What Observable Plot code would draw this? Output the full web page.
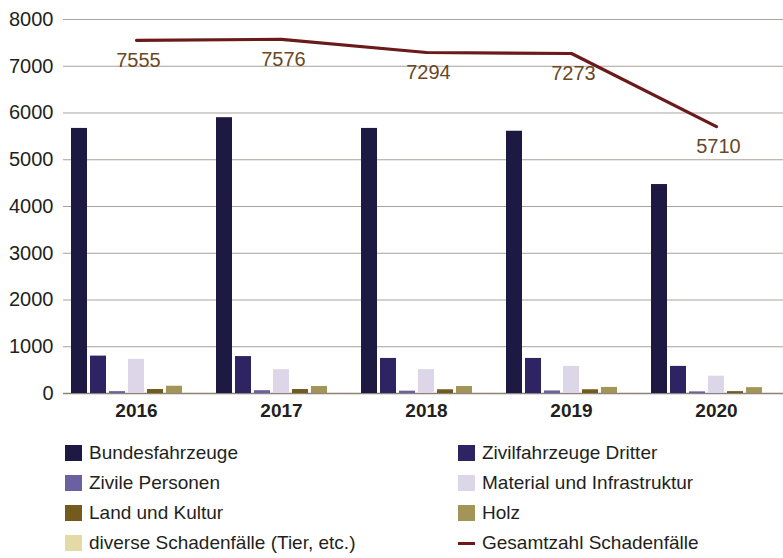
<!DOCTYPE html>
<html>
<head>
<meta charset="utf-8">
<script src="https://cdn.jsdelivr.net/npm/d3@7"></script>
<script src="https://cdn.jsdelivr.net/npm/@observablehq/plot@0.6"></script>
<style>
  html, body { margin: 0; padding: 0; background: #fff; overflow: hidden; }
  body { width: 783px; height: 558px; font-family: "Liberation Sans", Arial, sans-serif; }
  #chart { position: relative; width: 783px; height: 425px; }
  #chart svg { position: absolute; left: 0; top: 0; overflow: visible; background: transparent; }
  #chart svg.layerA { background: #fff; }
  [aria-label^="fx-axis"] text { font-weight: bold; }
  #legend { display: grid; grid-template-columns: 393px 300px; padding: 13px 0 0 65px; }
  .item { display: flex; align-items: center; height: 30px; font-size: 19px; color: #231f20; }
  .sw { width: 17px; height: 16px; margin-right: 7px; flex: none; }
  .ln { width: 17px; height: 3px; margin-right: 7px; flex: none; }
</style>
</head>
<body>
<div id="chart"></div>
<div id="legend"></div>
<script>
// ---- data ----
const years = ["2016", "2017", "2018", "2019", "2020"];
const series = [
  "Bundesfahrzeuge",
  "Zivilfahrzeuge Dritter",
  "Zivile Personen",
  "Material und Infrastruktur",
  "Land und Kultur",
  "Holz",
  "diverse Schadenfälle (Tier, etc.)"
];
const bundesfahrzeuge   = [5670, 5900, 5670, 5610, 4470];
const zivilfahrzeuge    = [800, 790, 750, 750, 580];
const zivilePersonen    = [40, 60, 50, 55, 35];
const material          = [730, 510, 510, 580, 370];
const landKultur        = [85, 85, 80, 80, 40];
const holz              = [155, 150, 150, 130, 125];
const diverse           = [10, 5, 5, 5, 5];
const gesamtzahl        = [7555, 7576, 7294, 7273, 5710];
const lineLabel = "Gesamtzahl Schadenfälle";
const yTicks = [0, 1000, 2000, 3000, 4000, 5000, 6000, 7000, 8000];

const colors = ["#1d1942", "#2e2363", "#6b60a2", "#dcd6e8", "#725b1d", "#a29557", "#e4daa6"];
const lineColor = "#6b1a1a";

// ---- build tables ----
const seriesValues = [bundesfahrzeuge, zivilfahrzeuge, zivilePersonen, material, landKultur, holz, diverse];
const rows = [];
years.forEach((y, i) => series.forEach((s, j) => rows.push({year: y, series: s, value: seriesValues[j][i]})));
const totals = years.map((y, i) => ({year: y, total: gesamtzahl[i]}));

const common = {
  width: 783, height: 425,
  marginLeft: 63, marginRight: -6, marginTop: 19, marginBottom: 32,
  style: {fontFamily: "'Liberation Sans', Arial, sans-serif", fontSize: "20px", color: "#231f20", background: "transparent", overflow: "visible"}
};

// Layer A: grid, y axis, total line and labels
const layerA = Plot.plot({
  ...common,
  className: "layerA",
  x: {type: "point", domain: years, padding: 0.5, axis: null},
  y: {domain: [0, 8000], ticks: yTicks, tickSize: 0, tickPadding: 10, label: null, tickFormat: d => String(d)},
  marks: [
    Plot.ruleY(yTicks.filter(d => d > 0), {stroke: "#aaa29b", strokeWidth: 1.2}),
    Plot.ruleY([0], {stroke: "#8c837c", strokeWidth: 1.4}),
    Plot.line(totals, {x: "year", y: "total", stroke: lineColor, strokeWidth: 3.2}),
    Plot.text(totals, {x: "year", y: "total", text: d => String(d.total), dy: 20, dx: 2, fill: "#6a4826", fontSize: 20})
  ]
});

// Layer B: grouped bars with year axis
const layerB = Plot.plot({
  ...common,
  facet: {data: rows, x: "year"},
  fx: {domain: years, paddingInner: 0.062, paddingOuter: 0.034, label: null, tickSize: 0, tickPadding: 10},
  x: {domain: series, paddingInner: 0.16, paddingOuter: 0, axis: null},
  y: {domain: [0, 8000], axis: null},
  color: {domain: series, range: colors},
  marks: [
    Plot.barY(rows, {x: "series", y: "value", fill: "series"})
  ]
});
layerB.style.fontSize = "19px";

const chart = document.getElementById("chart");
chart.appendChild(layerA);
chart.appendChild(layerB);

// ---- legend ----
const legend = document.getElementById("legend");
const order = [0, 1, 2, 3, 4, 5, 6];
order.forEach(j => {
  const it = document.createElement("div");
  it.className = "item";
  const sw = document.createElement("span");
  sw.className = "sw";
  sw.style.background = colors[j];
  it.appendChild(sw);
  it.appendChild(document.createTextNode(series[j]));
  legend.appendChild(it);
});
const li = document.createElement("div");
li.className = "item";
const ln = document.createElement("span");
ln.className = "ln";
ln.style.background = lineColor;
li.appendChild(ln);
li.appendChild(document.createTextNode(lineLabel));
legend.appendChild(li);
</script>
</body>
</html>
